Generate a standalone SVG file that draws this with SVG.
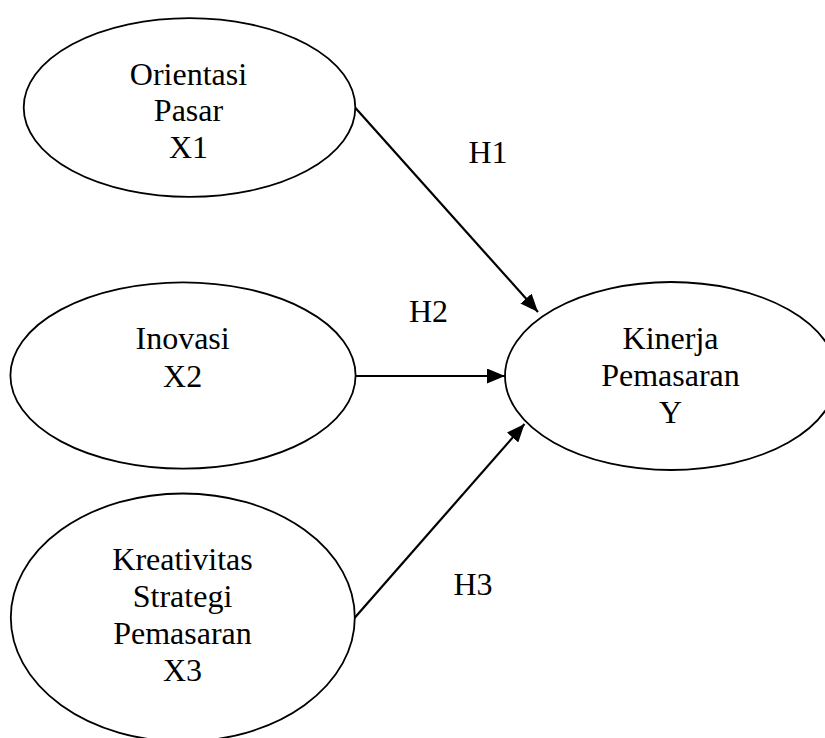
<svg xmlns="http://www.w3.org/2000/svg" width="825" height="738" viewBox="0 0 825 738">
<style>
.node ellipse{fill:#fff;stroke:#000;stroke-width:1.8}
text{font-family:"Liberation Serif","Times New Roman",serif;font-size:32px;fill:#000;text-anchor:middle}
.conn line{stroke:#000;stroke-width:2.2;fill:none}
</style>
<defs>
<marker id="ah" markerUnits="userSpaceOnUse" markerWidth="18" markerHeight="15" refX="18" refY="7.5" orient="auto">
<path d="M0,0 L18,7.5 L0,15 z" fill="#000"/>
</marker>
</defs>
<rect width="825" height="738" fill="#fff"/>
<g id="n1" class="node">
<ellipse cx="189.5" cy="107.5" rx="165.8" ry="89.4"/>
<text x="188.5" y="84.7">Orientasi</text>
<text x="188.5" y="121.4">Pasar</text>
<text x="188.5" y="157.8">X1</text>
</g>
<g id="n2" class="node">
<ellipse cx="183" cy="375.5" rx="172.6" ry="93.2"/>
<text x="182.6" y="349">Inovasi</text>
<text x="182.6" y="386.5">X2</text>
</g>
<g id="n3" class="node">
<ellipse cx="182.8" cy="617.5" rx="172" ry="124"/>
<text x="182.5" y="570">Kreativitas</text>
<text x="182.5" y="606.5">Strategi</text>
<text x="182.5" y="643.5">Pemasaran</text>
<text x="182.5" y="681">X3</text>
</g>
<g id="n4" class="node">
<ellipse cx="671" cy="376" rx="166" ry="94"/>
<text x="670.5" y="349.3">Kinerja</text>
<text x="670.5" y="385.8">Pemasaran</text>
<text x="670.5" y="422.5">Y</text>
</g>
<g id="connectors" class="conn">
<line x1="355.5" y1="108" x2="538" y2="312" marker-end="url(#ah)"/>
<line x1="356" y1="376" x2="505" y2="376" marker-end="url(#ah)"/>
<line x1="354.5" y1="618" x2="524.5" y2="424" marker-end="url(#ah)"/>
</g>
<g id="labels">
<text x="488" y="162.7">H1</text>
<text x="428.5" y="321.7">H2</text>
<text x="473" y="595.3">H3</text>
</g>
</svg>
